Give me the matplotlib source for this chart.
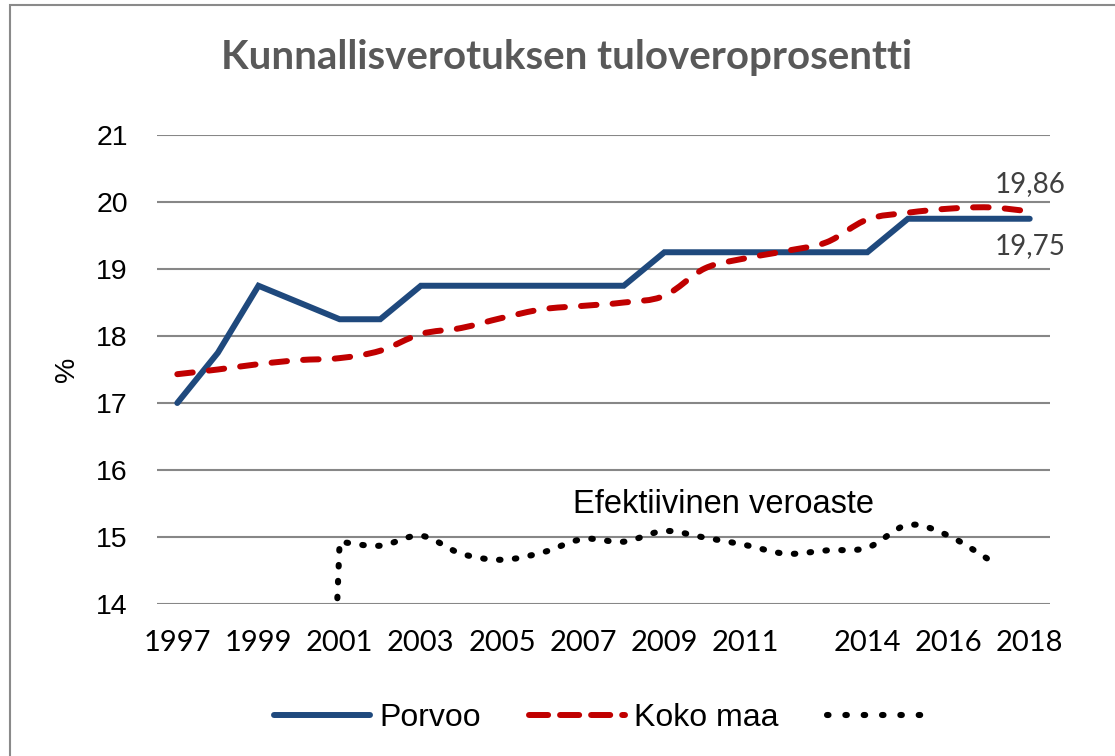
import matplotlib
matplotlib.use("Agg")
import matplotlib.pyplot as plt
import numpy as np
from matplotlib.path import Path
from matplotlib.patches import PathPatch, Rectangle
from matplotlib.lines import Line2D

years = list(range(1997, 2019))
porvoo = [17.0, 17.75, 18.75, 18.5, 18.25, 18.25, 18.75, 18.75, 18.75, 18.75,
          18.75, 18.75, 19.25, 19.25, 19.25, 19.25, 19.25, 19.25, 19.75, 19.75,
          19.75, 19.75]
koko_maa = [17.43, 17.5, 17.58, 17.64, 17.67, 17.78, 18.03, 18.12, 18.27, 18.4,
            18.45, 18.5, 18.6, 19.01, 19.16, 19.27, 19.4, 19.74, 19.84, 19.9,
            19.92, 19.86]
eff_years = list(range(2000, 2018))
efektiivinen = [0.0, 14.93, 14.87, 15.02, 14.75, 14.66, 14.77, 14.97, 14.93, 15.09,
                14.99, 14.88, 14.75, 14.8, 14.84, 15.18, 15.02, 14.66]
xtick_labels = ["1997", "1999", "2001", "2003", "2005", "2007", "2009", "2011",
                "2014", "2016", "2018"]
yticks = [14, 15, 16, 17, 18, 19, 20, 21]

W, H = 1115, 756
fig = plt.figure(figsize=(W / 100, H / 100), dpi=100)
ax = fig.add_axes([157 / W, 1 - 604 / H, (1050 - 157) / W, (604 - 135) / H])

def smooth_path(xs, ys, straight_first=False):
    xs = np.asarray(xs, float)
    ys = np.asarray(ys, float)
    n = len(xs)
    verts = [(xs[0], ys[0])]
    codes = [Path.MOVETO]
    for i in range(n - 1):
        if straight_first and i == 0:
            verts.append((xs[1], ys[1]))
            codes.append(Path.LINETO)
            continue
        i0 = max(i - 1, 0)
        i3 = min(i + 2, n - 1)
        if straight_first and i0 == 0:
            i0 = 1 if i >= 1 else 0
        c1 = (xs[i] + (xs[i + 1] - xs[i0]) / 6, ys[i] + (ys[i + 1] - ys[i0]) / 6)
        c2 = (xs[i + 1] - (xs[i3] - xs[i]) / 6, ys[i + 1] - (ys[i3] - ys[i]) / 6)
        verts += [c1, c2, (xs[i + 1], ys[i + 1])]
        codes += [Path.CURVE4] * 3
    return Path(verts, codes)

blue = "#1F497D"
red = "#C00000"
lw = 4.3

ax.plot(years, porvoo, color=blue, lw=lw, solid_capstyle="round",
        solid_joinstyle="miter", zorder=3)

p1 = PathPatch(smooth_path(years, koko_maa), fill=False, edgecolor=red, lw=lw,
               linestyle=(0, (2.6, 2.7)), capstyle="round", zorder=4)
ax.add_patch(p1)

p2 = PathPatch(smooth_path(eff_years, efektiivinen, straight_first=True), fill=False,
               edgecolor="black", lw=4.4, linestyle=(0, (0.25, 2.35)),
               capstyle="round", zorder=4)
ax.add_patch(p2)

ax.set_xlim(years[0] - 0.5, years[-1] + 0.5)
ax.set_ylim(14, 21)
ax.set_yticks(yticks)
ax.set_yticklabels([str(v) for v in yticks], fontsize=20.5, family="Liberation Sans")
ax.set_xticks([int(t) for t in xtick_labels])
ax.set_xticklabels(xtick_labels, fontsize=21, family="Lato")
ax.tick_params(length=0, pad=21, axis="y")
ax.tick_params(length=0, pad=19, axis="x")
ax.grid(axis="y", color="#878787", lw=1.5)
ax.set_axisbelow(True)
for s in ax.spines.values():
    s.set_visible(False)

ax.set_ylabel("%", fontsize=20.5, family="Liberation Sans")
ax.yaxis.set_label_coords(-0.086, 0.5)

ax.annotate(f"{koko_maa[-1]:.2f}".replace(".", ","), (years[-1], koko_maa[-1]),
            xytext=(0, 20), textcoords="offset points", ha="center", va="center",
            fontsize=20, family="Lato", color="#404040")
ax.annotate(f"{porvoo[-1]:.2f}".replace(".", ","), (years[-1], porvoo[-1]),
            xytext=(0, -19.5), textcoords="offset points", ha="center", va="center",
            fontsize=20, family="Lato", color="#404040")

ax.text(2010.45, 15.48, "Efektiivinen veroaste", fontsize=23.5, family="Liberation Sans",
        ha="center", va="center", color="black")

fig.text(567 / W, 1 - 57 / H, "Kunnallisverotuksen tuloveroprosentti", fontsize=29,
         family="Lato", weight="bold", color="#595959", ha="center", va="center")

handles = [
    Line2D([], [], color=blue, lw=lw, solid_capstyle="round"),
    Line2D([], [], color=red, lw=lw, linestyle=(0, (3.2, 2.0)), dash_capstyle="round"),
    Line2D([], [], color="black", lw=4.4, linestyle=(0, (0.25, 2.75)), dash_capstyle="round"),
]
fig.legend(handles, ["Porvoo", "Koko maa", ""], loc="center", ncol=3,
           bbox_to_anchor=(603 / W, 1 - 718 / H), frameon=False,
           prop={"family": "Liberation Sans", "size": 23}, handlelength=3.0,
           columnspacing=1.5, handletextpad=0.3)

fig.add_artist(Rectangle((10 / W, -0.1), 1.2, 1.1 - 5 / H, transform=fig.transFigure,
                         fill=False, edgecolor="#8a8a8a", lw=1.5))

fig.savefig("out.png", dpi=100)
